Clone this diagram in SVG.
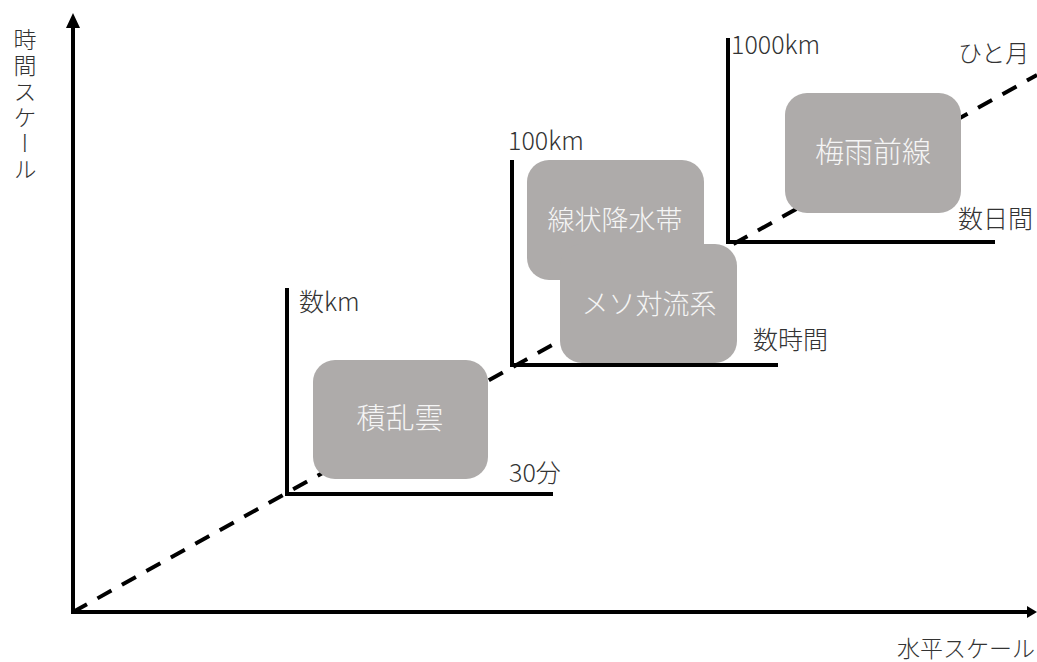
<svg xmlns="http://www.w3.org/2000/svg" width="1037" height="662" viewBox="0 0 1037 662">
<style>
.ax{stroke:#000;stroke-width:4;fill:none}
.dash{stroke:#000;stroke-width:4;stroke-dasharray:16 12;fill:none}
.box{fill:#AEABAA}
.bt{font-family:"Noto Sans CJK JP","Noto Sans",sans-serif;font-size:29px;fill:#F5F5F5;text-anchor:middle;font-weight:300}
.lb{font-family:"Noto Sans CJK JP","Noto Sans",sans-serif;font-size:25px;fill:#333;font-weight:300}
</style>
<g id="connectors">
<line class="dash" x1="73" y1="612" x2="1037" y2="75"/>
</g>
<g id="node-sekiranun">
<rect class="box" x="313" y="360" width="175" height="119" rx="22"/>
<text class="bt" x="400" y="429">積乱雲</text>
</g>
<g id="node-senjo">
<rect class="box" x="527" y="160" width="177" height="120" rx="22"/>
<text class="bt" x="615" y="230" style="font-size:27px">線状降水帯</text>
</g>
<g id="node-meso">
<rect class="box" x="560" y="244" width="177" height="119" rx="22"/>
<text class="bt" x="649" y="314" style="font-size:27px">メソ対流系</text>
</g>
<g id="node-baiu">
<rect class="box" x="785" y="93" width="176" height="120" rx="22"/>
<text class="bt" x="873" y="163">梅雨前線</text>
</g>
<g id="main-axes">
<polyline class="ax" points="73,22 73,612 1030,612"/>
<polygon points="73,13 66,28 80,28" fill="#000"/>
<polygon points="1037,612 1027,606 1027,618" fill="#000"/>
</g>
<g id="sub-axis-1">
<polyline class="ax" points="287,288 287,494 553,494"/>
<text class="lb" x="299" y="311">数km</text>
<text class="lb" x="509" y="482">30分</text>
</g>
<g id="sub-axis-2">
<polyline class="ax" points="512,160 512,365 778,365"/>
<text class="lb" x="508" y="150">100km</text>
<text class="lb" x="753" y="349">数時間</text>
</g>
<g id="sub-axis-3">
<polyline class="ax" points="728,38 728,242 995,242"/>
<text class="lb" x="731" y="54">1000km</text>
<text class="lb" x="958" y="62" style="font-size:24px">ひと月</text>
<text class="lb" x="958" y="228">数日間</text>
</g>
<g id="axis-labels">
<text class="lb" x="897" y="657" style="font-size:23px">水平スケール</text>
<text class="lb" x="25" y="28" style="writing-mode:vertical-rl;letter-spacing:3px;font-size:23px">時間スケール</text>
</g>
</svg>
